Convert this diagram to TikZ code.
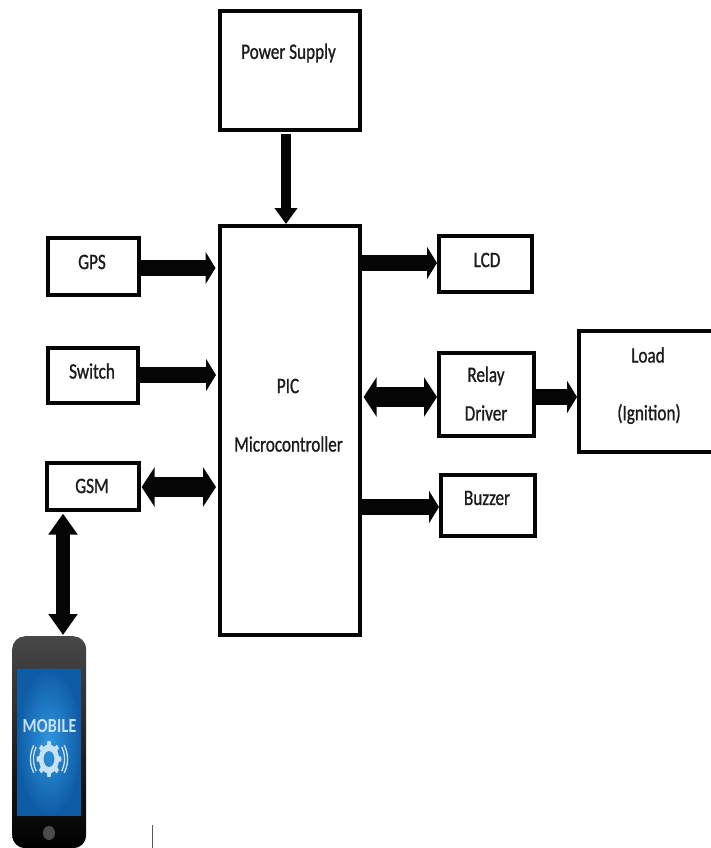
\documentclass[tikz,border=0pt]{standalone}
\usepackage{fontspec}
\setmainfont[FakeStretch=0.78,FakeBold=1]{Carlito}
\newfontfamily\mobfont[FakeStretch=0.8,LetterSpace=1]{Carlito Bold}
\usetikzlibrary{arrows.meta,positioning,calc}
\definecolor{inkc}{HTML}{050505}
\definecolor{labelc}{HTML}{1C1C1C}
\definecolor{scrcenter}{HTML}{2F97E0}
\definecolor{scredge}{HTML}{0F5CA6}
\definecolor{gearc}{HTML}{C9E2F3}
\tikzset{
  x=1pt,y=-1pt,
  blockbox/.style={draw=inkc,line width=4pt,fill=white,inner sep=0pt,anchor=north west},
  lab/.style={text=labelc,font=\fontsize{22}{24}\selectfont,inner sep=0pt},
  bar/.style={draw=inkc,line width=16pt,-{Triangle[length=10pt,width=32pt]}},
  barboth/.style={draw=inkc,line width=20pt,{Triangle[length=13pt,width=39pt]}-{Triangle[length=13pt,width=39pt]}},
  barthin/.style={draw=inkc,line width=10pt,-{Triangle[length=16pt,width=22pt]}},
  barslim/.style={draw=inkc,line width=14pt,{Triangle[length=21pt,width=28pt]}-{Triangle[length=21pt,width=28pt]}},
}
\newcommand{\blockat}[5]{% name, x1, y1, x2, y2
  \pgfmathsetmacro{\bw}{#4-#2-3.4}\pgfmathsetmacro{\bh}{#5-#3-3.4}
  \node[blockbox,minimum width=\bw pt,minimum height=\bh pt] (#1) at (#2,#3) {};}
\begin{document}
\begin{tikzpicture}
\useasboundingbox (0,0) rectangle (710,848);
\blockat{power}{218}{9}{361}{131}
\blockat{pic}{218}{224}{361}{636}
\blockat{gps}{46}{236}{140}{296}
\blockat{switch}{46}{346}{139}{404}
\blockat{gsm}{45}{461}{140}{511}
\blockat{lcd}{437}{234}{533}{293}
\blockat{relay}{437}{351}{535}{437}
\blockat{load}{577}{329}{716}{453}
\blockat{buzzer}{439}{473}{536}{537}
% labels
\node[lab] (t1) at (288.5,53) {Power Supply};
\node[lab] (t2) at (92,262) {GPS};
\node[lab] (t3) at (92,371) {Switch};
\node[lab] (t4) at (92,486) {GSM};
\node[lab] (t5) at (288,386) {PIC};
\node[lab] (t6) at (288.5,444) {Microcontroller};
\node[lab] (t7) at (487,260) {LCD};
\node[lab] (t8) at (486,376) {Relay};
\node[lab] (t9) at (486,413) {Driver};
\node[lab] (t10) at (648,355) {Load};
\node[lab] (t11) at (649,414) {(Ignition)};
\node[lab] (t12) at (487,498) {Buzzer};
% phone
\node[draw=none,top color=black!72,bottom color=black,rounded corners=13pt,minimum width=74pt,minimum height=212pt,inner sep=0pt,anchor=north west] (mobile) at (12,636) {};
\shade[inner color=scrcenter,outer color=scredge] (17,669) rectangle (81,815);
\node[text=gearc,font=\fontsize{20}{22}\mobfont,inner sep=0pt] (mobtxt) at (49.5,726) {MOBILE};
\fill[gearc,even odd rule]
  plot[smooth cycle,tension=0.2,samples=97,domain=0:360] ({49+(0.80+0.20*(cos(8*\x)>0))*12.5*cos(\x)},{759+(0.80+0.20*(cos(8*\x)>0))*18*sin(\x)})
  (49,759) ellipse[x radius=5.5,y radius=8];
\foreach \rx/\ry in {15.5/21,18.5/24}{
  \draw[gearc,line width=1.3pt] plot[smooth,samples=13,domain=145:215] ({49+\rx*cos(\x)},{759+\ry*sin(\x)});
  \draw[gearc,line width=1.3pt] plot[smooth,samples=13,domain=-35:35] ({49+\rx*cos(\x)},{759+\ry*sin(\x)});
}
\fill[black!70] (49,833) ellipse[x radius=6,y radius=7];
\node[inner sep=0pt,minimum size=0pt] (tick1) at (152,825) {};
\node[inner sep=0pt,minimum size=0pt] (tick2) at (152,848) {};
\draw[black!65,line width=1pt] (tick1) -- (tick2);
% connectors
\draw[barthin] (286,134) -- (pic.north -| 286,0);
\draw[bar,shorten >=2.5pt] (gps.east |- 0,268) -- (pic.west |- 0,268);
\draw[bar,shorten >=2pt] (switch.east |- 0,375) -- (pic.west |- 0,375);
\draw[barboth,shorten <=1pt,shorten >=2pt] (gsm.east |- 0,487) -- (pic.west |- 0,487);
\draw[bar] (pic.east |- 0,263) -- (lcd.west |- 0,263);
\draw[barboth,shorten <=2pt] (pic.east |- 0,397) -- (relay.west |- 0,397);
\draw[bar] (relay.east |- 0,397) -- (load.west |- 0,397);
\draw[bar] (pic.east |- 0,507) -- (buzzer.west |- 0,507);
\draw[barslim] (gsm.south -| 63,0) ++(0,2) -- (63,635);
\end{tikzpicture}
\end{document}
